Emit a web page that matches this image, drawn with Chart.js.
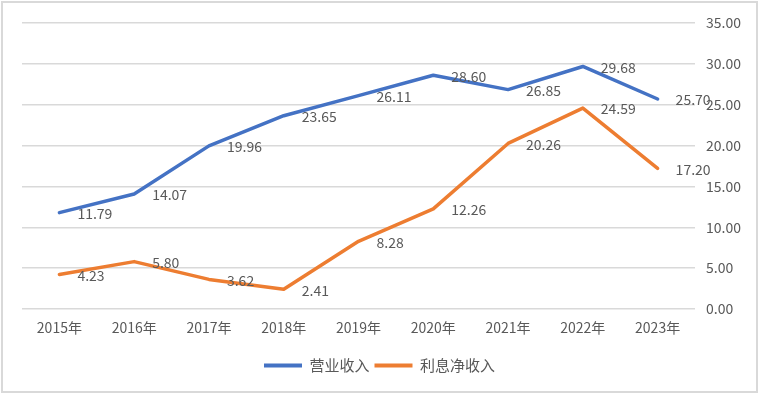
<!DOCTYPE html>
<html>
<head>
<meta charset="utf-8">
<script src="https://cdn.jsdelivr.net/npm/chart.js@4"></script>
<style>
  html, body { margin: 0; padding: 0; background: #fff; }
  #wrap { position: relative; width: 759px; height: 394px; }
  #frame { position: absolute; left: 1px; top: 1px; width: 753px; height: 388px;
           border: 2px solid #d9d9d9; pointer-events: none; }
  canvas { position: absolute; left: 0; top: 0; }
</style>
</head>
<body>
<div id="wrap">
  <canvas id="myChart" width="759" height="394"></canvas>
  <div id="frame"></div>
</div>
<script>
var years = ["2015年", "2016年", "2017年", "2018年", "2019年", "2020年", "2021年", "2022年", "2023年"];
var revenue = [11.79, 14.07, 19.96, 23.65, 26.11, 28.60, 26.85, 29.68, 25.70];
var netInterest = [4.23, 5.80, 3.62, 2.41, 8.28, 12.26, 20.26, 24.59, 17.20];
var seriesNames = ["营业收入", "利息净收入"];

var FONT = "'Noto Sans CJK SC', 'Noto Sans', sans-serif";
var TEXT = "#595959";

// draw the value next to each point, like the excel labels
var valueLabels = {
  id: "valueLabels",
  afterDatasetsDraw(chart) {
    const ctx = chart.ctx;
    ctx.save();
    ctx.font = "14px " + FONT;
    ctx.fillStyle = TEXT;
    ctx.textAlign = "left";
    ctx.textBaseline = "middle";
    chart.data.datasets.forEach((ds, i) => {
      const meta = chart.getDatasetMeta(i);
      meta.data.forEach((pt, j) => {
        ctx.fillText(ds.data[j].toFixed(2), pt.x + 18, pt.y + 1);
      });
    });
    ctx.restore();
  },
};

function displayLines() {
  const ctx = document.getElementById("myChart");
  new Chart(ctx, {
    type: "line",
    data: {
      labels: years,
      datasets: [
        {
          label: seriesNames[0],
          data: revenue,
          yAxisID: "y",
          borderColor: "#4472C4",
          backgroundColor: "#4472C4",
          borderWidth: 3.5,
          pointRadius: 0,
          tension: 0,
          borderCapStyle: "round",
          borderJoinStyle: "round",
        },
        {
          label: seriesNames[1],
          data: netInterest,
          yAxisID: "y",
          borderColor: "#ED7D31",
          backgroundColor: "#ED7D31",
          borderWidth: 3.5,
          pointRadius: 0,
          tension: 0,
          borderCapStyle: "round",
          borderJoinStyle: "round",
        },
      ],
    },
    options: {
      responsive: false,
      animation: false,
      layout: { padding: { left: 0, top: 23, right: 0, bottom: 11 } },
      plugins: {
        tooltip: { enabled: false },
        legend: {
          position: "bottom",
          labels: {
            boxWidth: 38,
            boxHeight: 4,
            padding: 5,
            color: TEXT,
            font: { family: FONT, size: 15 },
            generateLabels(chart) {
              const items = Chart.defaults.plugins.legend.labels.generateLabels(chart);
              items.forEach((it) => { it.lineWidth = 0; });
              return items;
            },
          },
        },
      },
      scales: {
        x: {
          offset: true,
          grid: { display: false, drawTicks: false },
          border: { display: false },
          ticks: { color: TEXT, font: { family: FONT, size: 14 }, padding: 10, maxRotation: 0 },
          afterFit(scale) { scale.height = 44; },
        },
        // empty left gutter so the legend centres on the whole picture
        gutter: {
          type: "linear",
          axis: "y",
          position: "left",
          grid: { display: false, drawTicks: false },
          border: { display: false },
          ticks: { display: false },
          afterFit(scale) { scale.width = 22; },
        },
        y: {
          position: "right",
          min: 0,
          max: 35,
          grid: { color: "#d9d9d9", lineWidth: 1.5, drawTicks: false },
          border: { display: false },
          ticks: {
            stepSize: 5,
            padding: 11,
            color: TEXT,
            font: { family: FONT, size: 14 },
            callback: (v) => v.toFixed(2),
          },
          afterFit(scale) { scale.width = 64; },
        },
      },
    },
    plugins: [valueLabels],
  });
}

displayLines();
</script>
</body>
</html>
